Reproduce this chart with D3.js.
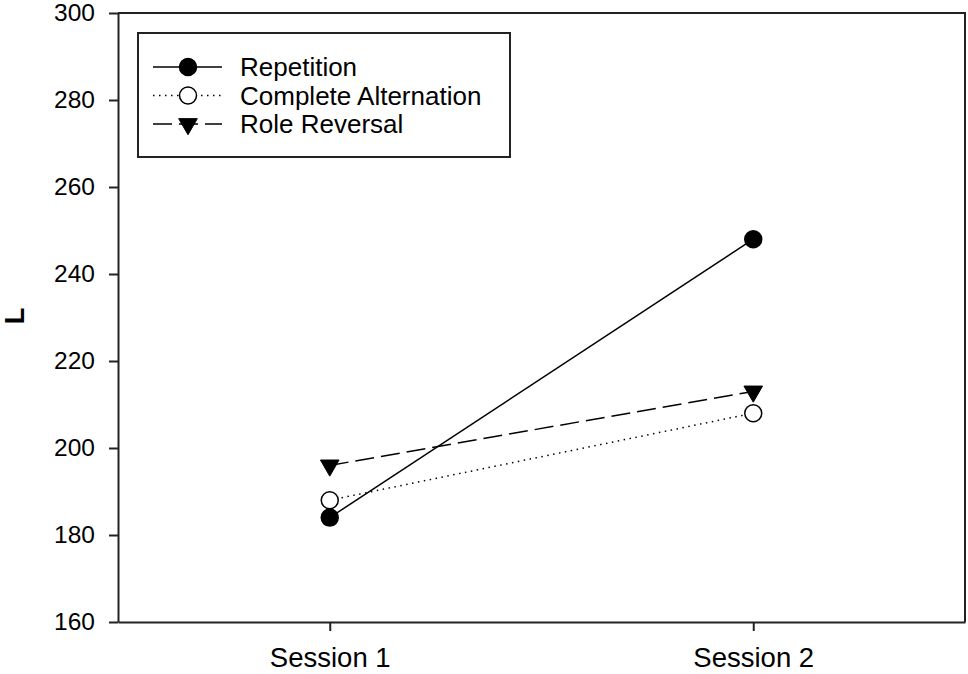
<!DOCTYPE html>
<html>
<head>
<meta charset="utf-8">
<script src="https://cdn.jsdelivr.net/npm/d3@7"></script>
<style>
    body { margin: 0; background: #fff; }
    svg { display: block; font-family: "Liberation Sans", Arial, sans-serif; }
</style>
</head>
<body>
<div id="chart"></div>
<script>
// values
let sessions = ['Session 1', 'Session 2'];
let repetition = [184, 248];
let completeAlternation = [188, 208];
let roleReversal = [196, 213];
let yTicks = [160, 180, 200, 220, 240, 260, 280, 300];

let seriesList = [
    { name: 'Repetition', values: repetition, marker: 'circle', fill: '#000', dash: null },
    { name: 'Complete Alternation', values: completeAlternation, marker: 'circle', fill: '#fff', dash: '1.5,4.5' },
    { name: 'Role Reversal', values: roleReversal, marker: 'triangle', fill: '#000', dash: '19,7' }
];

function getConfiguration(div) {
    let width = 968, height = 674;
    let margin = { top: 13, right: 3, bottom: 52, left: 118 };
    let svg = d3.select(div).append('svg')
        .attr('width', width)
        .attr('height', height);
    let chart = svg.append('g')
        .attr('transform', `translate(${margin.left},${margin.top})`);
    return {
        svg, chart, margin,
        chartWidth: width - margin.left - margin.right,
        chartHeight: height - margin.top - margin.bottom
    };
}

function createScaler(config) {
    let { chartWidth, chartHeight } = config;
    let xScaler = d3.scalePoint()
        .domain(sessions)
        .range([0, chartWidth])
        .padding(0.5);
    let yScaler = d3.scaleLinear()
        .domain([160, 300])
        .range([chartHeight, 0]);
    return { xScaler, yScaler };
}

function drawAxes(config, xScaler, yScaler) {
    let { chart, chartWidth, chartHeight } = config;

    let yAxis = d3.axisLeft(yScaler)
        .tickValues(yTicks)
        .tickSize(9)
        .tickSizeOuter(0)
        .tickPadding(14);
    chart.append('g').attr('class', 'y-axis').call(yAxis);

    let xAxis = d3.axisBottom(xScaler)
        .tickSize(9)
        .tickSizeOuter(0)
        .tickPadding(16);
    chart.append('g').attr('class', 'x-axis')
        .attr('transform', `translate(0,${chartHeight})`)
        .call(xAxis);

    chart.selectAll('.y-axis text').style('font-size', '24.5px').attr('fill', '#000');
    chart.selectAll('.x-axis text').style('font-size', '27.5px').attr('fill', '#000');
    chart.selectAll('.domain, .tick line').attr('stroke', '#222').attr('stroke-width', 2);

    // frame top and right
    chart.append('path')
        .attr('d', `M0,0H${chartWidth}V${chartHeight}`)
        .attr('fill', 'none')
        .attr('stroke', '#222')
        .attr('stroke-width', 2);

    config.svg.append('text')
        .attr('transform', 'translate(24,316) rotate(-90)')
        .attr('text-anchor', 'middle')
        .style('font-size', '27px')
        .style('font-weight', 'bold')
        .text('L');
}

function drawMarker(g, kind, fill, x, y) {
    if (kind === 'circle') {
        g.append('circle')
            .attr('cx', x).attr('cy', y).attr('r', 8.5)
            .attr('fill', fill).attr('stroke', '#000').attr('stroke-width', 1.5);
    } else {
        let tri = d3.symbol().type(d3.symbolTriangle).size(150);
        g.append('path')
            .attr('d', tri())
            .attr('transform', `translate(${x},${y}) rotate(180)`)
            .attr('fill', fill).attr('stroke', '#000').attr('stroke-width', 1);
    }
}

function drawSeries(config, xScaler, yScaler) {
    let { chart } = config;
    let line = d3.line()
        .x((d, i) => xScaler(sessions[i]))
        .y(d => yScaler(d));

    seriesList.forEach(s => {
        chart.append('path')
            .datum(s.values)
            .attr('d', line)
            .attr('fill', 'none')
            .attr('stroke', '#000')
            .attr('stroke-width', 1.5)
            .attr('stroke-dasharray', s.dash);
    });
    seriesList.forEach(s => {
        let g = chart.append('g');
        s.values.forEach((v, i) => drawMarker(g, s.marker, s.fill, xScaler(sessions[i]), yScaler(v)));
    });
}

function drawLegend(config) {
    let { svg } = config;
    let legend = svg.append('g').attr('class', 'legend');
    legend.append('rect')
        .attr('x', 138).attr('y', 33)
        .attr('width', 372).attr('height', 124)
        .attr('fill', '#fff').attr('stroke', '#222').attr('stroke-width', 2);

    seriesList.forEach((s, i) => {
        let y = 67 + i * 28.5;
        legend.append('line')
            .attr('x1', 153).attr('x2', 222).attr('y1', y).attr('y2', y)
            .attr('stroke', '#000').attr('stroke-width', 1.5)
            .attr('stroke-dasharray', s.dash);
        drawMarker(legend, s.marker, s.fill, 188, y);
        legend.append('text')
            .attr('x', 240).attr('y', y)
            .attr('dy', '0.35em')
            .style('font-size', '26px')
            .text(s.name);
    });
}

function drawLineChart(div) {
    let config = getConfiguration(div);
    let { xScaler, yScaler } = createScaler(config);
    drawAxes(config, xScaler, yScaler);
    drawSeries(config, xScaler, yScaler);
    drawLegend(config);
}

drawLineChart('#chart');
</script>
</body>
</html>
